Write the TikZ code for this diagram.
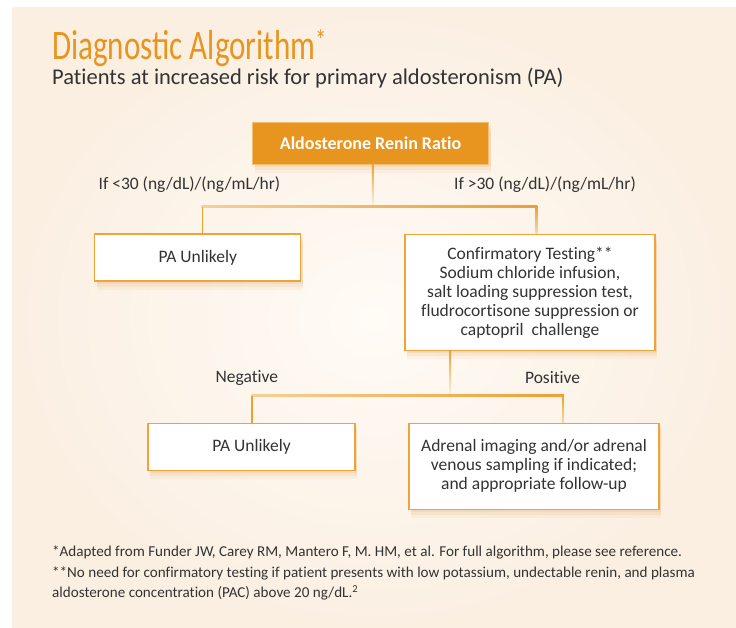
\documentclass[tikz,border=0pt]{standalone}
\usepackage{fontspec}
\setmainfont[Ligatures=NoCommon]{Carlito}
\newfontfamily\titlefont[FakeStretch=0.74]{Carlito}
\usetikzlibrary{shadows,calc}
\definecolor{bgcream}{HTML}{FBEFE2}
\definecolor{bglight}{HTML}{FFFBF6}
\definecolor{orng}{HTML}{E8951F}
\definecolor{boxline}{HTML}{EFA43A}
\definecolor{linecol}{HTML}{EE9F30}
\definecolor{txt}{HTML}{333333}
\definecolor{shadowcol}{HTML}{E4B070}
\tikzset{
  softshadow/.style={
    general shadow={fill=shadowcol, opacity=0.10, shadow xshift=2pt, shadow yshift=-9pt},
    general shadow={fill=shadowcol, opacity=0.14, shadow xshift=2pt, shadow yshift=-6pt},
    general shadow={fill=shadowcol, opacity=0.18, shadow xshift=2pt, shadow yshift=-3pt}},
  flowbox/.style={draw=boxline, line width=1.1pt, fill=white, inner sep=4pt, align=center,
    text=txt, font=\fontsize{17.5}{19}\selectfont, softshadow},
  arrbox/.style={draw=boxline!70!white, line width=0.8pt, fill=orng, inner sep=4pt,
    text=white, font=\bfseries\fontsize{18}{20}\selectfont, softshadow},
  lbl/.style={inner sep=0, text=txt, font=\fontsize{17.5}{19}\selectfont},
  conn/.style={draw=linecol, line width=1.6pt},
  foot/.style={inner sep=0, anchor=base west, text=txt, font=\fontsize{15.1}{20}\selectfont}
}
\begin{document}
\begin{tikzpicture}[x=1pt,y=-1pt]
\useasboundingbox (0,0) rectangle (736,628);
\fill[white] (0,0) rectangle (736,628);
\fill[bgcream] (12,8) rectangle (736,628);
\shade[inner color=bglight, outer color=bgcream] (12,8) rectangle (736,628);

% title
\node[anchor=base west, inner sep=0, text=orng, font=\titlefont\fontsize{42}{42}\selectfont] (title) at (52,60) {Diagnostic Algorithm\textsuperscript{*}};
\node[anchor=base west, inner sep=0, text=txt, font=\fontsize{22.5}{24}\selectfont] (sub) at (52,85) {Patients at increased risk for primary aldosteronism (PA)};

% nodes
\node[arrbox, minimum width=236, minimum height=42] (arr) at (370.5,143.5) {Aldosterone Renin Ratio};
\node[flowbox, minimum width=206, minimum height=47] (pa1) at (197.75,257.5) {PA Unlikely};
\node[flowbox, minimum width=250, minimum height=116] (conf) at (530,292.3) {Confirmatory Testing**\\Sodium chloride infusion,\\salt loading suppression test,\\fludrocortisone suppression or\\captopril\ \ challenge};
\node[flowbox, minimum width=207, minimum height=47] (pa2) at (251.5,446.7) {PA Unlikely};
\node[flowbox, minimum width=250, minimum height=86] (adr) at (534,466.3) {Adrenal imaging and/or adrenal\\venous sampling if indicated;\\and appropriate follow-up};

% labels
\node[lbl, anchor=west] (lt) at (98.4,185) {If <30 (ng/dL)/(ng/mL/hr)};
\node[lbl, anchor=west] (gt) at (454,185) {If >30 (ng/dL)/(ng/mL/hr)};
\node[lbl] (neg) at (246.9,378.3) {Negative};
\node[lbl] (pos) at (552.6,378) {Positive};

% connectors level 1
\coordinate (a1) at (372.7,206.7);
\coordinate (h1l) at (202.4,206.7);
\coordinate (h1r) at (536.5,206.7);
\shade[top color=linecol, bottom color=linecol!12] ($(arr.south -| a1)+(-0.8,0)$) rectangle ($(a1)+(0.8,0)$);
\shade[left color=linecol!50, right color=linecol] ($(h1l)+(-0.8,-0.8)$) rectangle ($(h1r)+(0.8,0.8)$);
\draw[conn] (h1l) -- (h1l |- pa1.north);
\shade[top color=linecol, bottom color=linecol!40] ($(h1r)+(-0.8,0)$) rectangle ($(h1r |- conf.north)+(0.8,0)$);

% connectors level 2
\coordinate (a2) at (450.4,395.7);
\coordinate (h2l) at (252.2,395.7);
\coordinate (h2r) at (563,395.7);
\shade[top color=linecol, bottom color=linecol!12] ($(conf.south -| a2)+(-0.8,0)$) rectangle ($(a2)+(0.8,0)$);
\shade[left color=linecol!50, right color=linecol] ($(h2l)+(-0.8,-0.8)$) rectangle ($(h2r)+(0.8,0.8)$);
\draw[conn] (h2l) -- (h2l |- pa2.north);
\shade[top color=linecol, bottom color=linecol!40] ($(h2r)+(-0.8,0)$) rectangle ($(h2r |- adr.north)+(0.8,0)$);

% footnotes
\node[foot] (fn1) at (52,556.7) {*Adapted from Funder JW, Carey RM, Mantero F, M. HM, et al. For full algorithm, please see reference.};
\node[foot] (fn2) at (52,577.2) {**No need for confirmatory testing if patient presents with low potassium, undectable renin, and plasma};
\node[foot] (fn3) at (52,597.9) {aldosterone concentration (PAC) above 20 ng/dL.\textsuperscript{2}};
\end{tikzpicture}
\end{document}
